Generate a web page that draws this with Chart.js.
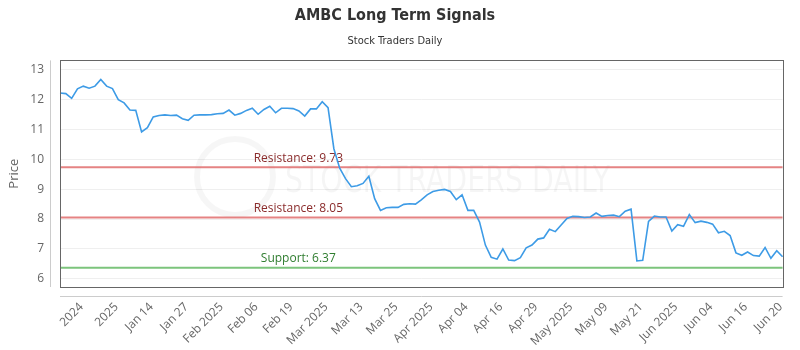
<!DOCTYPE html>
<html>
<head>
<meta charset="utf-8">
<script src="https://cdn.jsdelivr.net/npm/chart.js@4.4.1/dist/chart.umd.min.js"></script>
<style>
  html, body { margin: 0; padding: 0; background: #fff; }
  #wrap { width: 800px; height: 350px; }
</style>
</head>
<body>
<div id="wrap"><canvas id="signalChart"></canvas></div>
<script>
// Daily closes (125 sessions)
const prices = [
    12.21, 12.19, 12.03, 12.35, 12.44, 12.37, 12.44, 12.66, 12.44, 12.36,
    11.99, 11.88, 11.64, 11.63, 10.91, 11.05, 11.41, 11.46, 11.48, 11.46,
    11.47, 11.35, 11.30, 11.47, 11.48, 11.48, 11.49, 11.52, 11.53, 11.64,
    11.47, 11.53, 11.63, 11.70, 11.50, 11.66, 11.77, 11.55, 11.70, 11.70,
    11.69, 11.61, 11.44, 11.68, 11.68, 11.92, 11.72, 10.35, 9.70, 9.35,
    9.08, 9.11, 9.19, 9.43, 8.68, 8.29, 8.38, 8.39, 8.39, 8.49,
    8.51, 8.50, 8.64, 8.81, 8.92, 8.96, 8.99, 8.92, 8.65, 8.81,
    8.29, 8.29, 7.90, 7.13, 6.72, 6.66, 7.00, 6.63, 6.61, 6.71,
    7.04, 7.13, 7.33, 7.37, 7.66, 7.58, 7.80, 8.02, 8.09, 8.08,
    8.05, 8.07, 8.20, 8.09, 8.12, 8.13, 8.08, 8.26, 8.33, 6.60,
    6.62, 7.92, 8.10, 8.07, 8.07, 7.60, 7.81, 7.76, 8.15, 7.88,
    7.93, 7.89, 7.83, 7.54, 7.59, 7.45, 6.87, 6.79, 6.90, 6.78,
    6.76, 7.05, 6.69, 6.94, 6.74
];

// x labels shown on the axis (every 6th session, starting at the 4th)
const tickLabels = [
    "2024", "2025", "Jan 14", "Jan 27", "Feb 2025", "Feb 06", "Feb 19",
    "Mar 2025", "Mar 13", "Mar 25", "Apr 2025", "Apr 04", "Apr 16", "Apr 29",
    "May 2025", "May 09", "May 21", "Jun 2025", "Jun 04", "Jun 16", "Jun 20"
];
const tickStart = 3;
const tickStep = 6;

const yTicks = [6, 7, 8, 9, 10, 11, 12, 13];

// signal levels
const levelNames = ["Resistance", "Resistance", "Support"];
const levelValues = [9.73, 8.05, 6.37];
const levelColors = ["rgba(220, 90, 90, 0.75)", "rgba(220, 90, 90, 0.75)", "rgba(110, 190, 110, 0.9)"];
const levelTextColors = ["#8a2b2b", "#8a2b2b", "#2f7d2f"];

const sessions = prices.map((p, i) => i);

const levelsPlugin = {
    id: "levels",
    beforeDatasetsDraw(chart){
        const ctx = chart.ctx;
        const area = chart.chartArea;
        const y = chart.scales.y;
        const x = chart.scales.x;

        // watermark
        ctx.save();
        ctx.strokeStyle = "rgba(0,0,0,0.035)";
        ctx.lineWidth = 6;
        ctx.beginPath();
        ctx.arc(235, 177, 38, 0, Math.PI * 2);
        ctx.stroke();
        ctx.fillStyle = "rgba(0,0,0,0.04)";
        ctx.font = "38px 'DejaVu Sans Condensed', sans-serif";
        ctx.textAlign = "left";
        ctx.textBaseline = "middle";
        ctx.fillText("STOCK TRADERS DAILY", 285, 182, 325);
        ctx.restore();

        ctx.save();
        for(let i = 0; i < levelValues.length; i++){
            const py = y.getPixelForValue(levelValues[i]);
            ctx.strokeStyle = levelColors[i];
            ctx.lineWidth = 2;
            ctx.beginPath();
            ctx.moveTo(area.left, py);
            ctx.lineTo(area.right, py);
            ctx.stroke();

            ctx.fillStyle = levelTextColors[i];
            ctx.font = "12px 'Open Sans', sans-serif";
            ctx.textAlign = "center";
            ctx.textBaseline = "bottom";
            ctx.fillText(levelNames[i] + ": " + levelValues[i].toFixed(2), x.getPixelForValue(40.9), py - 3);
        }
        ctx.restore();
    },
    afterDraw(chart){
        const ctx = chart.ctx;
        const area = chart.chartArea;
        ctx.save();
        // plot frame
        ctx.strokeStyle = "#666";
        ctx.lineWidth = 1;
        ctx.strokeRect(Math.round(area.left) + 0.5, Math.round(area.top) + 0.5,
            Math.round(area.right - area.left), Math.round(area.bottom - area.top));
        // detached axis lines
        ctx.strokeStyle = "#ccc";
        ctx.beginPath();
        ctx.moveTo(50.5, area.top);
        ctx.lineTo(50.5, area.bottom);
        ctx.moveTo(area.left, Math.round(area.bottom) + 9.5);
        ctx.lineTo(area.right, Math.round(area.bottom) + 9.5);
        ctx.stroke();
        ctx.restore();
    }
};

const signalCtx = document.getElementById("signalChart").getContext("2d");

const signalChart = new Chart(signalCtx, {
    type: "line",
    data: {
        labels: sessions,
        datasets: [{
            label: "AMBC",
            data: prices,
            borderColor: "#3d9be6",
            borderWidth: 1.6,
            pointRadius: 0,
            tension: 0,
            fill: false
        }]
    },
    options: {
        responsive: true,
        maintainAspectRatio: false,
        animation: false,
        layout: {
            padding: { top: 0, right: 10, bottom: 0, left: 0 }
        },
        plugins: {
            legend: { display: false },
            tooltip: { enabled: false },
            title: {
                display: true,
                text: "AMBC Long Term Signals",
                color: "#333",
                font: { family: "'DejaVu Sans Condensed', sans-serif", size: 16, weight: "bold" },
                padding: { top: 6, bottom: 6 }
            },
            subtitle: {
                display: true,
                text: "Stock Traders Daily",
                color: "#333",
                font: { family: "'DejaVu Sans Condensed', sans-serif", size: 11 },
                padding: { top: 3, bottom: 13 }
            }
        },
        scales: {
            x: {
                type: "category",
                offset: false,
                grid: { display: false, drawTicks: false },
                border: { display: false },
                afterBuildTicks(scale){
                    scale.ticks = scale.ticks.filter(t => t.value >= tickStart && (t.value - tickStart) % tickStep === 0);
                },
                afterFit(scale){
                    scale.height = 63;
                },
                ticks: {
                    autoSkip: false,
                    maxRotation: 45,
                    minRotation: 45,
                    padding: 13,
                    labelOffset: 4,
                    color: "#666",
                    font: { family: "'Open Sans', sans-serif", size: 12 },
                    callback(value){
                        return tickLabels[(value - tickStart) / tickStep];
                    }
                }
            },
            y: {
                min: 5.73,
                max: 13.3,
                grid: { color: "#efefef", drawTicks: false },
                border: { display: false },
                afterBuildTicks(scale){
                    scale.ticks = yTicks.map(v => ({ value: v }));
                },
                afterFit(scale){
                    scale.width = 60;
                },
                title: {
                    display: true,
                    text: "Price",
                    color: "#666",
                    font: { family: "'Open Sans', sans-serif", size: 13 },
                    padding: { top: 6, bottom: 0 }
                },
                ticks: {
                    padding: 16,
                    color: "#666",
                    font: { family: "'Open Sans', sans-serif", size: 12 }
                }
            }
        }
    },
    plugins: [levelsPlugin]
});
</script>
</body>
</html>
